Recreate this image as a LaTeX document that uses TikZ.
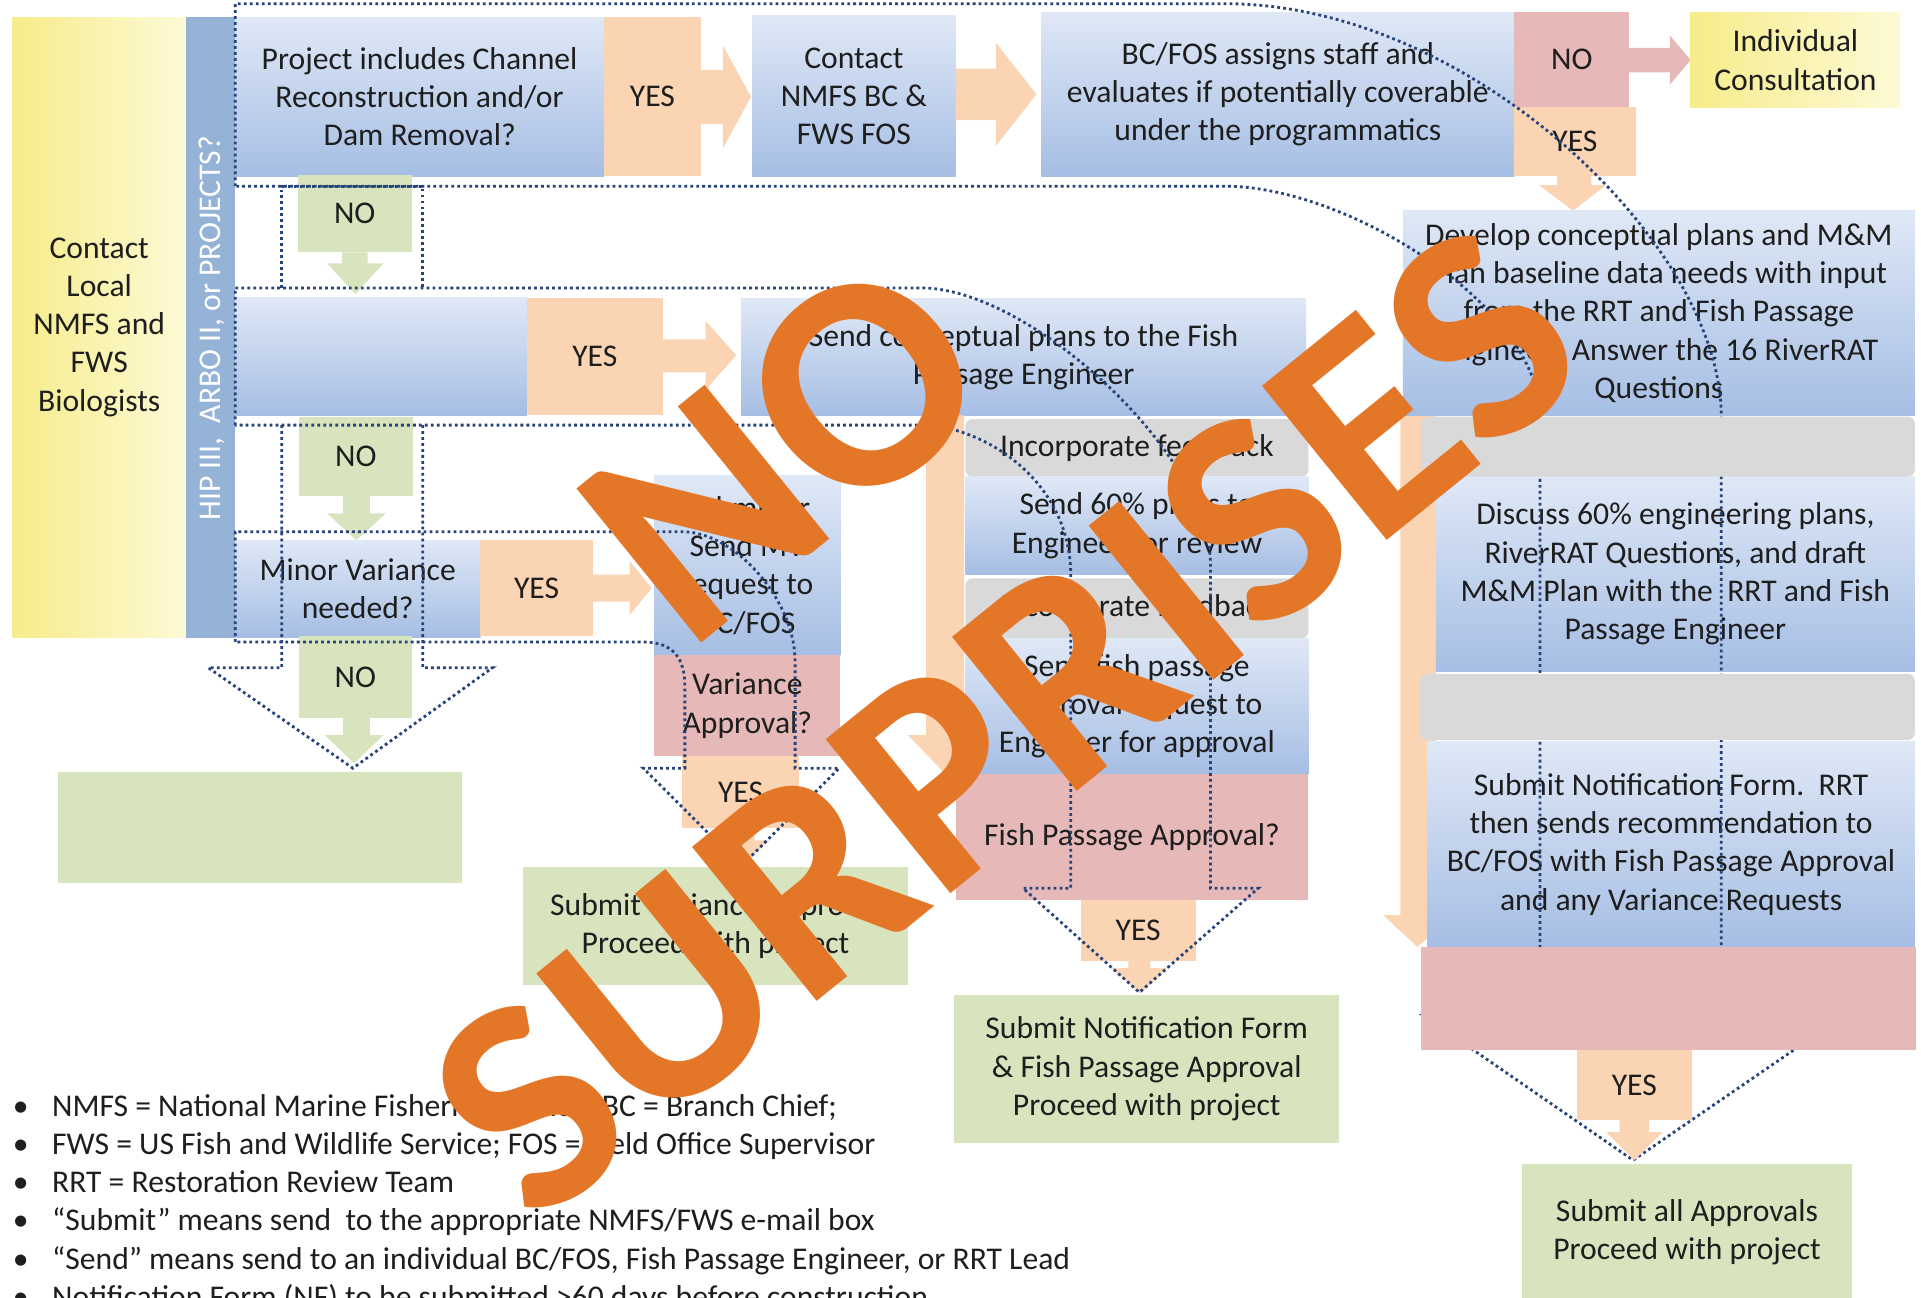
\documentclass[tikz,border=0pt]{standalone}
\usepackage{fontspec}
\setmainfont{Carlito}
\usepackage{tikz}
\usetikzlibrary{fit}

\definecolor{bluetop}{RGB}{223,232,246}
\definecolor{bluebot}{RGB}{166,190,228}
\definecolor{barblue}{RGB}{149,179,215}
\definecolor{peachfill}{RGB}{251,212,180}
\definecolor{pinkfill}{RGB}{230,185,184}
\definecolor{greenfill}{RGB}{215,228,189}
\definecolor{grayfill}{RGB}{217,217,217}
\definecolor{yellowdeep}{RGB}{246,236,138}
\definecolor{yellowpale}{RGB}{253,250,214}
\definecolor{dotblue}{RGB}{38,68,122}
\definecolor{txtgray}{RGB}{30,30,30}
\definecolor{stamp}{RGB}{228,118,40}

\newcommand{\flowfont}{\fontsize{9}{10.9}\selectfont}
\newcommand{\stampfont}{\fontsize{87}{100}\selectfont\bfseries}

\begin{document}
\begin{tikzpicture}[
    x=0.012251cm, y=-0.012251cm,
    box/.style={rectangle, inner sep=0pt, outer sep=0pt},
    boxlabel/.style={font=\flowfont, text=txtgray, align=center, inner sep=0pt},
    txt/.style={label={[boxlabel]center:#1}},
    bluebox/.style={box, top color=bluetop, bottom color=bluebot},
    peachbox/.style={box, fill=peachfill},
    pinkbox/.style={box, fill=pinkfill},
    greenbox/.style={box, fill=greenfill},
    graybox/.style={box, fill=grayfill, rounded corners=2pt},
    yellowbox/.style={box, left color=yellowdeep, right color=yellowpale},
    band/.style={draw=dotblue, line width=0.8pt, dash pattern=on 0.8pt off 0.9pt},
    notetext/.style={font=\flowfont, text=txtgray, inner sep=0pt}
]
\useasboundingbox (0,0) rectangle (1568,1059);

%% ---- left column ----
\node[yellowbox, fit={(10,14) (152,520)}, txt={Contact\\Local\\NMFS and\\FWS\\Biologists}] (contact) {};
\node[box, fill=barblue, fit={(152,14) (192,521)}] (bar) {};
\node[font=\flowfont, text=white, rotate=90, inner sep=0pt] (bartext) at (173,268) {HIP III,\ \ ARBO II, or PROJECTS?};

%% ---- row 1 ----
\node[bluebox, fit={(192,14) (493,144)}, txt={Project includes Channel\\Reconstruction and/or\\Dam Removal?}] (channel) {};
\node[peachbox, fit={(493,14) (572,144)}, txt=YES] (yes1) {};
\fill[peachfill] (572,57) -- (590,57) -- (590,37) -- (613,79) -- (590,121) -- (590,101) -- (572,101) -- cycle;
\node[bluebox, fit={(614,13) (780,144)}, txt={Contact\\NMFS BC \&\\FWS FOS}] (contactbc) {};
\fill[peachfill] (780,56) -- (813,56) -- (813,35) -- (846,77) -- (813,119) -- (813,98) -- (780,98) -- cycle;
\node[bluebox, fit={(850,10) (1236,144)}, txt={BC/FOS assigns staff and\\evaluates if potentially coverable\\under the programmatics}] (assign) {};
\node[pinkbox, fit={(1236,10) (1330,87)}, txt=NO] (no1) {};
\fill[pinkfill] (1329,39) -- (1363,39) -- (1363,29) -- (1380,49) -- (1363,69) -- (1363,59) -- (1329,59) -- cycle;
\node[yellowbox, fit={(1380,10) (1551,88)}, txt={Individual\\Consultation}] (indiv) {};
\node[peachbox, fit={(1236,87) (1335,144)}, txt=YES] (yes2) {};
\fill[peachfill] (1271,143) -- (1271,151) -- (1256,151) -- (1284,172) -- (1311,151) -- (1299,151) -- (1299,143) -- cycle;

%% ---- row 2 ----
\node[greenbox, fit={(243,143) (336,206)}, txt=NO] (no2) {};
\fill[greenfill] (279,206) -- (279,215) -- (267,215) -- (290,240) -- (313,215) -- (300,215) -- (300,206) -- cycle;
\node[bluebox, fit={(192,243) (430,339)}] (blank1) {};
\node[peachbox, fit={(430,243) (541,339)}, txt=YES] (yes3) {};
\fill[peachfill] (541,277) -- (576,277) -- (576,262) -- (601,290) -- (576,318) -- (576,304) -- (541,304) -- cycle;
\node[bluebox, fit={(605,244) (1066,339)}, txt={Send conceptual plans to the Fish\\Passage Engineer}] (sendcp) {};
\node[greenbox, fit={(244,340) (337,405)}, txt=NO] (no3) {};
\fill[greenfill] (280,405) -- (280,419) -- (267,419) -- (291,441) -- (315,419) -- (302,419) -- (302,405) -- cycle;

%% ---- row 3 ----
\node[bluebox, fit={(192,441) (392,520)}, txt={Minor Variance\\needed?}] (minor) {};
\node[peachbox, fit={(392,441) (484,519)}, txt=YES] (yes4) {};
\fill[peachfill] (484,469) -- (514,469) -- (514,458) -- (532,480) -- (514,502) -- (514,491) -- (484,491) -- cycle;
\node[bluebox, fit={(534,388) (686,535)}, txt={Submit or\\Send MV\\request to\\BC/FOS}] (mvreq) {};
\node[pinkbox, fit={(534,535) (686,617)}, txt={Variance\\Approval?}] (mvok) {};
\node[peachbox, fit={(557,617) (652,676)}, txt=YES] (yes5) {};
\fill[peachfill] (594,676) -- (594,686) -- (582,686) -- (605,707) -- (628,686) -- (616,686) -- (616,676) -- cycle;
\node[greenbox, fit={(427,708) (741,804)}, txt={Submit Variance Approval\\Proceed with project}] (mvdone) {};
\node[greenbox, fit={(244,519) (336,586)}, txt=NO] (no4) {};
\fill[greenfill] (280,586) -- (280,600) -- (265,600) -- (289,623) -- (313,600) -- (302,600) -- (302,586) -- cycle;
\node[greenbox, fit={(47,630) (377,721)}] (blank2) {};

%% ---- middle column ----
\fill[peachfill] (756,339) -- (787,339) -- (787,600) -- (802,600) -- (772,632) -- (741,600) -- (756,600) -- cycle;
\node[graybox, fit={(788,342) (1068,389)}, txt={Incorporate feedback}] (fb1) {};
\node[bluebox, fit={(788,389) (1068,469)}, txt={Send 60\% plans to\\Engineer for review}] (sixty) {};
\node[graybox, fit={(788,472) (1068,521)}, txt={Incorporate feedback}] (fb2) {};
\node[bluebox, fit={(788,521) (1068,632)}, txt={Send fish passage\\approval request to\\Engineer for approval}] (fpreq) {};
\node[pinkbox, fit={(780,632) (1068,735)}, txt={Fish Passage Approval?}] (fpok) {};
\node[peachbox, fit={(882,735) (976,784)}, txt=YES] (yes6) {};
\fill[peachfill] (921,784) -- (921,790) -- (907,790) -- (931,811) -- (953,790) -- (939,790) -- (939,784) -- cycle;
\node[greenbox, fit={(779,812) (1093,933)}, txt={Submit Notification Form\\\& Fish Passage Approval\\Proceed with project}] (fpdone) {};

%% ---- right column ----
\fill[peachfill] (1143,336) -- (1172,336) -- (1172,747) -- (1185,747) -- (1157,773) -- (1129,747) -- (1143,747) -- cycle;
\node[bluebox, fit={(1145,172) (1563,339)}, txt={Develop conceptual plans and M\&M\\Plan baseline data needs with input\\from the RRT and Fish Passage\\Engineer.\ \ Answer the 16 RiverRAT\\Questions}] (develop) {};
\node[bluebox, fit={(1172,389) (1563,548)}, txt={Discuss 60\% engineering plans,\\RiverRAT Questions, and draft\\M\&M Plan with the\ \ RRT and Fish\\Passage Engineer}] (discuss) {};
\node[bluebox, fit={(1165,605) (1563,773)}, txt={Submit Notification Form.\ \ RRT\\then sends recommendation to\\BC/FOS with Fish Passage Approval\\and any Variance Requests}] (notify) {};

%% ---- dotted bands ----
\draw[band] (192,152) -- (192,3) -- (1000,3)
    .. controls (1200,3) and (1405,200) .. (1405,340)
    -- (1405,829) -- (1505,829) -- (1333,947) -- (1162,829) -- (1257,829)
    -- (1257,340) .. controls (1257,250) and (1100,152) .. (1000,152) -- cycle;
\draw[band] (192,347) -- (192,235) -- (752,235)
    .. controls (840,235) and (988,370) .. (988,460)
    -- (988,725) -- (1027,725) -- (930,810) -- (835,725) -- (874,725)
    -- (874,470) .. controls (874,390) and (800,347) .. (752,347) -- cycle;
\draw[band] (192,524) -- (192,434) -- (557,434)
    .. controls (600,434) and (649,490) .. (649,540)
    -- (649,627) -- (685,627) -- (605,707) -- (525,627) -- (559,627)
    -- (559,560) .. controls (559,538) and (550,524) .. (525,524) -- cycle;
\draw[band] (230,235) -- (230,152) -- (345,152) -- (345,235);
\draw[band] (230,347) -- (230,545) -- (170,545) -- (288,627) -- (402,545) -- (345,545) -- (345,347);

%% ---- boxes over the bands ----
\node[graybox, fit={(1160,340) (1563,389)}] (gray3) {};
\node[graybox, fit={(1159,550) (1563,604)}] (gray4) {};
\node[pinkbox, fit={(1160,773) (1564,857)}] (rrtok) {};
\node[peachbox, fit={(1287,857) (1381,914)}, txt=YES] (yes7) {};
\fill[peachfill] (1322,914) -- (1322,924) -- (1311,924) -- (1334,947) -- (1357,924) -- (1346,924) -- (1346,914) -- cycle;
\node[greenbox, fit={(1242,950) (1512,1062)}, txt={Submit all Approvals\\Proceed with project}] (alldone) {};

%% ---- notes ----
\foreach \txt [count=\i] in {
    {NMFS = National Marine Fisheries Service; BC = Branch Chief;},
    {FWS = US Fish and Wildlife Service; FOS = Field Office Supervisor},
    {RRT = Restoration Review Team},
    {“Submit” means send\ \ to the appropriate NMFS/FWS e-mail box},
    {“Send” means send to an individual BC/FOS, Fish Passage Engineer, or RRT Lead},
    {Notification Form (NF) to be submitted >60 days before construction}} {
  \node[notetext, anchor=base] (dot\i) at (17, {879.8+31.2*\i}) {\textbullet};
  \node[notetext, anchor=base west] (note\i) at (42, {879.8+31.2*\i}) {\txt};
}

%% ---- stamp ----
\node[font=\stampfont, text=stamp, rotate=39, align=center, inner sep=0pt] (stamptext) at (730,478) {NO\\SURPRISES};

\end{tikzpicture}
\end{document}
